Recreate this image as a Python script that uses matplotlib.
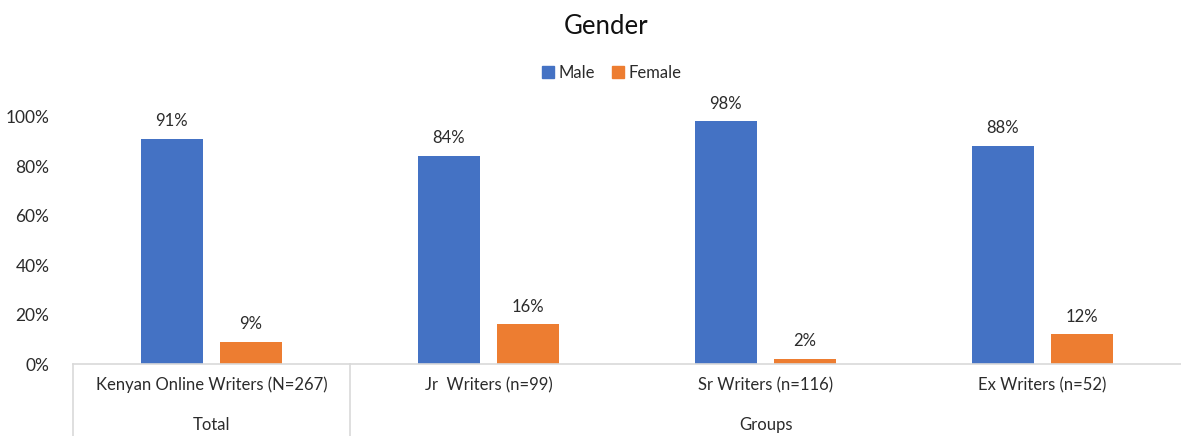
import numpy as np
import matplotlib.pyplot as plt
from matplotlib.transforms import blended_transform_factory
from matplotlib.patches import Patch

plt.rcParams['font.family'] = ['Lato', 'DejaVu Sans']

categories = ['Kenyan Online Writers (N=267)', 'Jr  Writers (n=99)',
              'Sr Writers (n=116)', 'Ex Writers (n=52)']
groups = ['Total', 'Groups']
group_spans = [(0, 0), (1, 3)]
male = [91, 84, 98, 88]
female = [9, 16, 2, 12]
yticks = [0, 20, 40, 60, 80, 100]

blue = '#4472C4'
orange = '#ED7D31'
grid = '#D9D9D9'
txt = '#2b2b2b'

fig = plt.figure(figsize=(11.81, 4.36), dpi=100)
ax = fig.add_axes([73 / 1181, 72 / 436, 1 - 73 / 1181, 247.5 / 436])

x = np.arange(len(categories))
off, w = 0.143, 0.224
bm = ax.bar(x - off, male, w, color=blue, zorder=2)
bf = ax.bar(x + off, female, w, color=orange, zorder=2)

for bars, vals in ((bm, male), (bf, female)):
    for b, v in zip(bars, vals):
        ax.annotate(f'{v}%', (b.get_x() + b.get_width() / 2, v),
                    xytext=(0, 7), textcoords='offset points',
                    ha='center', va='bottom', fontsize=12, color=txt,
                    annotation_clip=False)

ax.set_xlim(-0.5, len(categories) - 0.5)
ax.set_ylim(0, 100)
ax.set_yticks(yticks)
ax.set_yticklabels([f'{t}%' for t in yticks], fontsize=12.5, color=txt)
ax.tick_params(axis='y', length=0, pad=17)
ax.set_xticks([])
for s in ['top', 'right', 'left']:
    ax.spines[s].set_visible(False)
ax.spines['bottom'].set_color(grid)
ax.spines['bottom'].set_linewidth(1.2)

# two-level category labels with separators
tr = blended_transform_factory(ax.transData, ax.transAxes)
for i, c in enumerate(categories):
    ax.text(i, -0.085, c, transform=tr, ha='center', va='center',
            fontsize=12, color=txt)
for g, (a, b) in zip(groups, group_spans):
    ax.text((a + b) / 2, -0.245, g, transform=tr, ha='center', va='center',
            fontsize=12, color=txt)
for a, b in group_spans:
    ax.plot([a - 0.5, a - 0.5], [0, -0.3], transform=tr, color=grid,
            lw=1.2, clip_on=False)

fig.text(606 / 1181, 1 - 27 / 436, 'Gender', ha='center', va='center',
         fontsize=18.5, color='#111111')
handles = [Patch(color=blue, label='Male'), Patch(color=orange, label='Female')]
fig.legend(handles=handles, loc='center', bbox_to_anchor=(612 / 1181, 1 - 73 / 436),
           ncol=2, frameon=False, fontsize=12, handlelength=0.7, handleheight=0.7,
           handletextpad=0.3, columnspacing=1.0, labelcolor=txt)

fig.savefig('out.png', dpi=100)
